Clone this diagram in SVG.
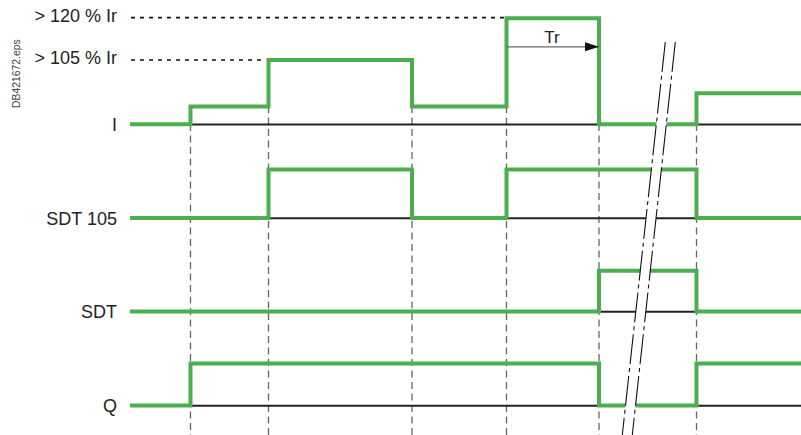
<svg xmlns="http://www.w3.org/2000/svg" width="801" height="435" viewBox="0 0 801 435">
<style>
.lbl{font-family:"Liberation Sans",Arial,sans-serif;font-size:18px;fill:#222}
.sig{fill:none;stroke:#4bae4f;stroke-width:4;stroke-linejoin:miter}
.base{fill:none;stroke:#222;stroke-width:2}
.vdash{fill:none;stroke:#666;stroke-width:1.3;stroke-dasharray:7 4.5}
.lvl{fill:none;stroke:#111;stroke-width:1.6;stroke-dasharray:4 5}
.brk{fill:none;stroke:#111;stroke-width:1.1;stroke-dasharray:30 4 4 4}
</style>
<defs>
<marker id="ah" markerWidth="14" markerHeight="9" refX="14" refY="4.5" orient="auto" markerUnits="userSpaceOnUse">
<path d="M0,0 L14,4.5 L0,9 Z" fill="#111"/>
</marker>
</defs>
<rect width="801" height="435" fill="#fff"/>
<text x="0" y="0" transform="translate(20.3,108) rotate(-90)" style="font-family:'Liberation Sans',Arial,sans-serif;font-size:10.4px;fill:#444">DB421672.eps</text>
<g id="levels">
<path class="lvl" d="M131,17.6 H505"/>
<path class="lvl" d="M131,60 H266"/>
<text class="lbl" x="117" y="22" text-anchor="end">&gt; 120 % Ir</text>
<text class="lbl" x="117" y="63.5" text-anchor="end">&gt; 105 % Ir</text>
</g>
<g id="guides">
<path class="vdash" d="M190.5,124 V435"/>
<path class="vdash" d="M268.5,106 V435"/>
<path class="vdash" d="M412,106 V435"/>
<path class="vdash" d="M506.5,106 V435"/>
<path class="vdash" d="M599,124 V435"/>
<path class="vdash" d="M696.5,124 V435"/>
</g>
<g id="sig-I">
<text class="lbl" x="117" y="131" text-anchor="end">I</text>
<path class="base" d="M190.5,124.6 H801"/>
<path class="sig" d="M130,124.3 H190.5 V106.5 H268.5 V60 H412 V106.5 H506.5 V18.3 H599 V124.3 H696.5 V93.3 H801"/>
</g>
<g id="sig-SDT105">
<text class="lbl" x="117" y="224.5" text-anchor="end">SDT 105</text>
<path class="base" d="M268.5,218.3 H801"/>
<path class="sig" d="M130,218 H268.5 V169.5 H412 V218 H506.5 V169.5 H696.5 V218 H801"/>
</g>
<g id="sig-SDT">
<text class="lbl" x="117" y="318" text-anchor="end">SDT</text>
<path class="base" d="M599,311.8 H801"/>
<path class="sig" d="M130,311.5 H599 V270.7 H696.5 V311.5 H801"/>
</g>
<g id="sig-Q">
<text class="lbl" x="117" y="412" text-anchor="end">Q</text>
<path class="base" d="M190.5,405.8 H801"/>
<path class="sig" d="M130,405.5 H190.5 V363.5 H599 V405.5 H696.5 V363.5 H801"/>
</g>
<g id="break">
<polygon points="665.3,42 675.3,42 632.3,435 622.3,435" fill="#fff"/>
<path class="brk" d="M665.3,42 L622.3,435"/>
<path class="brk" d="M675.3,42 L632.3,435"/>
</g>
<g id="connectors">
<path d="M507,46.8 H599" stroke="#666" stroke-width="1.3" fill="none" marker-end="url(#ah)"/>
<text class="lbl" x="552" y="42.5" text-anchor="middle" style="font-size:17px">Tr</text>
</g>
</svg>
